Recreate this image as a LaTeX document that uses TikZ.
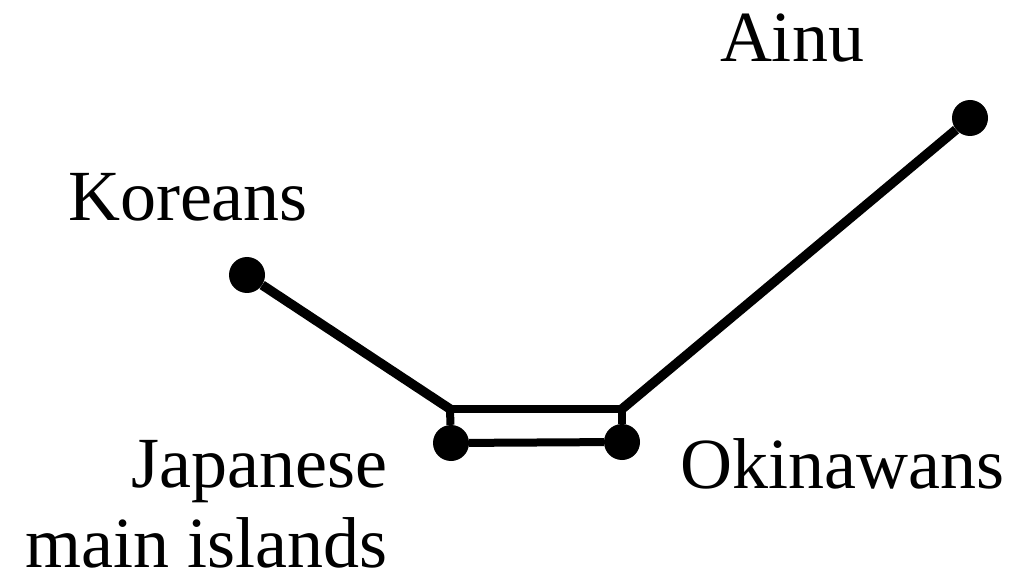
\documentclass[tikz,border=0pt]{standalone}
\usepackage{fontspec}
\setmainfont{Liberation Serif}
\usepackage{tikz}
\usetikzlibrary{positioning}
\tikzset{
  %% Population dots
  popdot/.style={
    circle, fill=black, inner sep=0pt,
    minimum size=36pt},
  %% Tree branches
  branch/.style={line width=9.5pt, black, line join=miter},
  %% Labels
  poplabel/.style={
    inner sep=0pt, align=right,
    font=\rmfamily\fontsize{72}{80}\selectfont},
}
\begin{document}
\begin{tikzpicture}[x=1pt, y=-1pt]

  \useasboundingbox (0,0) rectangle (1017,577);

  %% Population dots
  \node[popdot] (kor)  at (247,275) {};
  \node[popdot] (ainu) at (970,118) {};
  \node[popdot] (jap)  at (451,443) {};
  \node[popdot] (oki)  at (622,442) {};

  %% Branch corners
  \coordinate (tl) at (450,409);
  \coordinate (tr) at (622,409);

  %% Branches
  \draw[branch] (kor) -- (tl);
  \draw[branch] (tr) -- (ainu);
  \draw[branch, line width=8pt] (tl) -- (tr);
  \draw[branch, line width=8pt] (tl) -- (jap);
  \draw[branch, line width=8pt] (tr) -- (oki);
  \draw[branch, line width=8pt] (jap) -- (oki);

  %% Labels
  \node[poplabel, anchor=base] (korlab) at (188,221) {Koreans};
  \node[poplabel, anchor=base] (ainulab) at (792,62) {Ainu};
  \node[poplabel, anchor=base west] (okilab) at (680,488) {Okinawans};
  \node[poplabel, anchor=base east] (japlab) at (388,567)
        {Japanese\\ main islands};

\end{tikzpicture}
\end{document}
